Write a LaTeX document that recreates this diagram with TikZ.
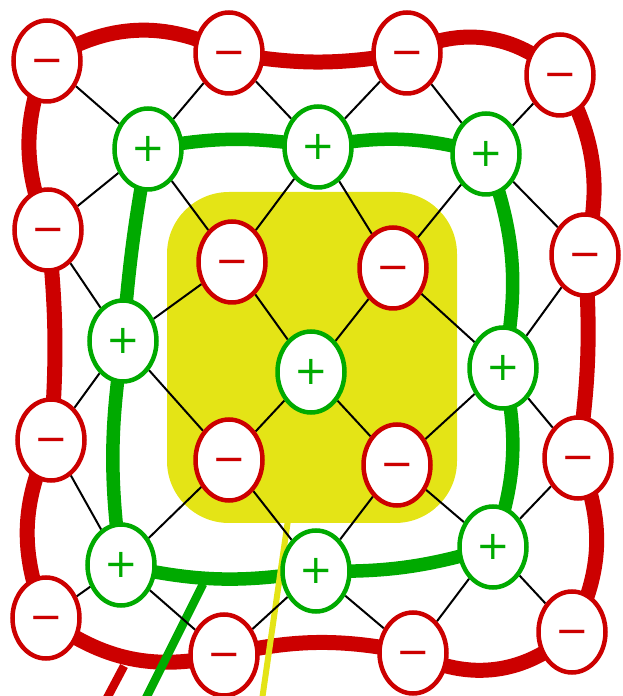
\documentclass[tikz,border=0pt]{standalone}
\usepackage{fontspec}
\newfontfamily\signfont{DejaVu Sans}
\usepackage{xcolor}
\usepackage{tikz}
\usetikzlibrary{shapes.geometric, backgrounds}

\definecolor{ionred}{RGB}{204,0,0}
\definecolor{iongreen}{RGB}{0,170,0}
\definecolor{coreyellow}{RGB}{228,228,22}

\begin{document}
\begin{tikzpicture}[
        x=1pt, y=1pt,
        anion/.style={ellipse, draw=ionred, line width=4.5pt, fill=white, minimum width=67pt, minimum height=81pt, inner sep=0pt, text=ionred, text height=26pt, text depth=0pt, font=\signfont\fontsize{40}{40}\selectfont},
        cation/.style={anion, draw=iongreen, text=iongreen},
        corebox/.style={rectangle, rounded corners=62pt, fill=coreyellow, minimum width=290pt, minimum height=331pt},
        bond/.style={line width=2pt, black},
        redring/.style={line width=15pt, ionred},
        greenring/.style={line width=13.5pt, iongreen},
        tail/.style={line width=8.5pt}
    ]
        \useasboundingbox (0,0) rectangle (622,696);

        % outer ring
        \node (r1) [anion] at (47,635) {−};
        \node (r2) [anion] at (229,643) {−};
        \node (r3) [anion] at (407,643) {−};
        \node (r4) [anion] at (560,621) {−};
        \node (rr1) [anion] at (585,441) {−};
        \node (rr2) [anion] at (578,238) {−};
        \node (rbr) [anion] at (572,64) {−};
        \node (rb2) [anion] at (413,43) {−};
        \node (rb1) [anion] at (224,41) {−};
        \node (rl4) [anion] at (46,78) {−};
        \node (rl3) [anion] at (51,256) {−};
        \node (rl2) [anion] at (48,466) {−};

        % middle ring
        \node (g1) [cation] at (148,547) {+};
        \node (g2) [cation] at (318,549) {+};
        \node (g3) [cation] at (486,542) {+};
        \node (g4) [cation] at (123,355) {+};
        \node (g6) [cation] at (503,328) {+};
        \node (g7) [cation] at (121,131) {+};
        \node (g8) [cation] at (316,125) {+};
        \node (g9) [cation] at (493,149) {+};

        % core
        \node (g5) [cation] at (311,324) {+};
        \node (i1) [anion] at (232,434) {−};
        \node (i2) [anion] at (393,428) {−};
        \node (i3) [anion] at (229,236) {−};
        \node (i4) [anion] at (397,231) {−};

        \coordinate (ytop) at (288,176);
        \coordinate (yfoot) at (262,-4);
        \coordinate (gtop) at (203,112);
        \coordinate (gfoot) at (145,-4);
        \coordinate (rtop) at (124,30);
        \coordinate (rfoot) at (106,-4);

        \begin{scope}[on background layer]
            \node (core) [corebox] at (312,338.5) {};

            \draw [redring] (r1.center) to[bend left=30] (r2.center) to[bend right=10] (r3.center)
                to[bend left=35] (r4.center) to[bend left=22] (rr1.center) to[bend left=6] (rr2.center)
                to[bend left=25] (rbr.center) to[bend left=35] (rb2.center) to[bend right=12] (rb1.center)
                to[bend left=25] (rl4.center) to[bend left=24] (rl3.center) to[bend right=5] (rl2.center)
                to[bend left=22] (r1.center);
            \draw [greenring] (g1.center) to[bend left=10] (g2.center) to[bend left=13] (g3.center)
                to[bend left=16] (g6.center) to[bend left=16] (g9.center) to[bend left=9] (g8.center)
                to[bend left=11] (g7.center) to[bend left=8] (g4.center) to[bend left=3] (g1.center);

            \draw [tail, ionred] (rtop) -- (rfoot);
            \draw [tail, iongreen] (gtop) -- (gfoot);
            \draw [tail, coreyellow, line width=6pt] (ytop) -- (yfoot);

            \draw [bond] (g1) -- (r1) (g1) -- (r2) (g1) -- (rl2) (g1) -- (i1);
            \draw [bond] (g2) -- (r2) (g2) -- (r3) (g2) -- (i1) (g2) -- (i2);
            \draw [bond] (g3) -- (r3) (g3) -- (r4) (g3) -- (i2) (g3) -- (rr1);
            \draw [bond] (g4) -- (rl2) (g4) -- (i1) (g4) -- (rl3) (g4) -- (i3);
            \draw [bond] (g5) -- (i1) (g5) -- (i2) (g5) -- (i3) (g5) -- (i4);
            \draw [bond] (g6) -- (i2) (g6) -- (rr1) (g6) -- (i4) (g6) -- (rr2);
            \draw [bond] (g7) -- (rl3) (g7) -- (i3) (g7) -- (rl4) (g7) -- (rb1);
            \draw [bond] (g8) -- (i3) (g8) -- (i4) (g8) -- (rb1) (g8) -- (rb2);
            \draw [bond] (g9) -- (i4) (g9) -- (rr2) (g9) -- (rb2) (g9) -- (rbr);
        \end{scope}
    \end{tikzpicture}
\end{document}
